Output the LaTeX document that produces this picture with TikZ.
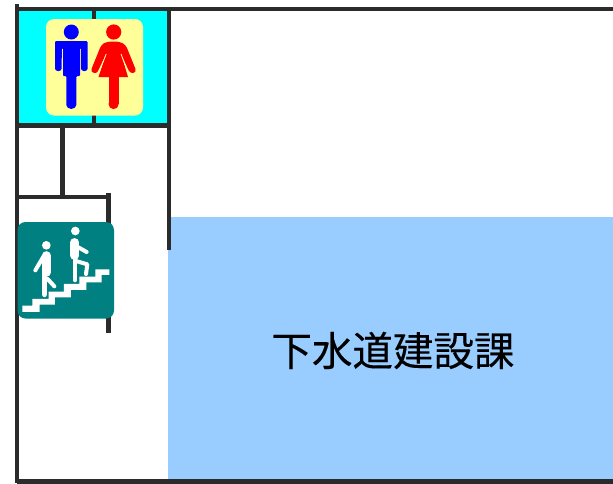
\documentclass[tikz,border=0pt]{standalone}
\usepackage{fontspec}
\newfontfamily\cjk[FakeBold=0.25]{Noto Sans CJK JP}
\definecolor{wallc}{HTML}{2B2B2B}
\definecolor{roomblue}{HTML}{99CCFF}
\definecolor{roomcyan}{HTML}{00FFFF}
\definecolor{signteal}{HTML}{008080}
\definecolor{signyellow}{HTML}{FFFF99}
\tikzset{
  wall/.style={draw=wallc,line width=4.4pt,line cap=butt},
  limb/.style={line cap=round,line join=round},
}
\begin{document}
\begin{tikzpicture}[x=1pt,y=-1pt]
\useasboundingbox (0,0) rectangle (613,483);
\fill[white] (0,0) rectangle (613,483);
% rooms
\fill[roomcyan] (18,10) rectangle (168,125);
\fill[roomblue] (168,217) rectangle (613,480);
% walls
\draw[wall] (17,4) -- (17,483);
\draw[wall] (17,9) -- (613,9);
\draw[wall] (94,9) -- (94,126);
\draw[wall] (169,9) -- (169,250);
\draw[wall] (17,125.5) -- (169,125.5);
\draw[wall] (62.5,126) -- (62.5,197);
\draw[wall] (17,197) -- (110,197);
\draw[wall] (108.5,193) -- (108.5,333);
\draw[wall] (17,481.5) -- (613,481.5);
% toilet sign
\fill[signyellow,rounded corners=8pt] (46,19) rectangle (143,115.5);
% man
\fill[blue] (71.3,32) circle (7.5);
\fill[blue,rounded corners=1pt] (55,41) -- (87.5,41) -- (87.5,68) arc[start angle=0,end angle=180,radius=3.2] -- (81,48) -- (80,48) -- (80,76) -- (76.3,76) -- (76.3,104) arc[start angle=0,end angle=180,radius=5] -- (66.3,76) -- (63,76) -- (63,48) -- (62,48) -- (61.5,68) arc[start angle=0,end angle=180,radius=3.2] -- cycle;
% woman
\fill[red] (113.7,32) circle (7.6);
\fill[red] (108.5,75) rectangle (118.7,104);
\fill[red] (113.6,104) circle (5.1);
\fill[red] (98.5,77) -- (128,77) -- (121.5,55) -- (121.5,45) -- (105.5,45) -- (105.5,55) -- cycle;
\fill[red] (113.6,41.5) .. controls (104,41.5) and (102,44) .. (100,48) -- (91.5,69) .. controls (90,73) and (97,74.5) .. (98,71) -- (106,54) -- (121,54) -- (129,71) .. controls (131,74.5) and (137,73) .. (135.5,69) -- (127,48) .. controls (125,44) and (122,41.5) .. (113.6,41.5) -- cycle;
\fill[red] (106,53) -- (121,53) -- (123,62) -- (104,62) -- cycle;
\draw[signyellow,line width=0.8pt] (106.2,54) -- (99.5,71.5);
\draw[signyellow,line width=0.8pt] (121,54) -- (127.5,71.5);
% stairs sign
\fill[signteal,rounded corners=8pt] (17.5,222) rectangle (114,318.5);
\begin{scope}[shift={(0,185)},x=0.3333pt,y=-0.3333pt]
\fill[white] (67,362) -- (97,362) -- (97,342) -- (146,342) -- (146,320) -- (192,320) -- (192,297) -- (238,297) -- (238,275) -- (286,275) -- (286,253) -- (328,253) -- (328,270) -- (305,270) -- (305,292) -- (259,292) -- (259,315) -- (213,315) -- (213,337) -- (165,337) -- (165,359) -- (119,359) -- (119,381) -- (67,381) -- cycle;
% lower walker
\fill[white] (139,181) circle (13);
\draw[white,limb,line width=9pt] (139,212) -- (139,262);
\draw[white,limb,line width=5.6pt] (133,262) -- (133,328);
\draw[white,limb,line width=4pt] (132,212) -- (106,256);
\draw[white,limb,line width=4pt] (143,282) -- (163,304);
% upper walker
\fill[white] (226,138) circle (13);
\draw[white,limb,line width=8.5pt] (224,172) -- (224,212);
\draw[white,limb,line width=4.6pt] (225,215) -- (225,285);
\draw[white,limb,line width=4pt] (235,187) -- (260,201);
\draw[white,limb,line width=4pt] (228,228) -- (262,238) -- (258,267);
\end{scope}
% label
\node[font=\cjk\fontsize{40.5pt}{44pt}\selectfont,text=black,inner sep=0pt] (label) at (393,350.5) {下水道建設課};
\end{tikzpicture}
\end{document}
